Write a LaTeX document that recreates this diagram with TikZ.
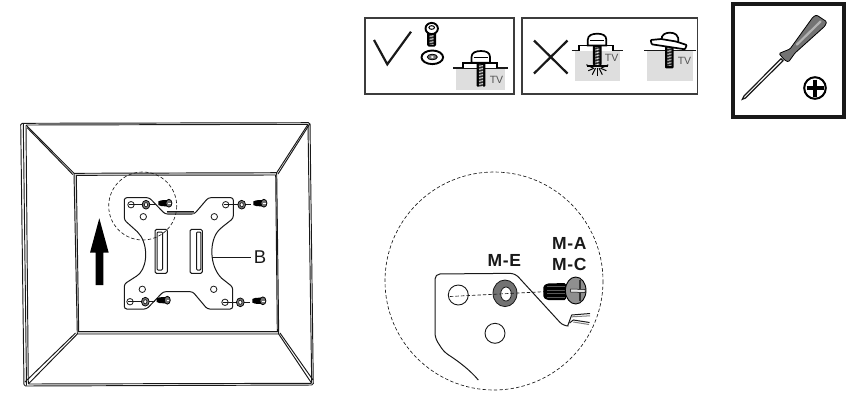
\documentclass[tikz,border=0pt]{standalone}
\usepackage{fontspec}
\setmainfont{Liberation Sans}
\definecolor{tvgray}{gray}{0.87}
\definecolor{midgray}{gray}{0.45}
\definecolor{darkline}{gray}{0.1}
\tikzset{
  framebox/.style={draw=darkline!85, line width=1.6pt},
  edgeline/.style={draw=darkline, line width=0.95pt},
  plateline/.style={draw=darkline, line width=1pt},
  dashcircle/.style={draw=darkline, line width=0.65pt, dashed, dash pattern=on 3.4pt off 2.2pt},
  tvlabel/.style={text=darkline!75, font=\fontsize{10.5}{10.5}\selectfont, inner sep=0pt},
  partlabel/.style={text=darkline, font=\fontsize{17.5}{21.5}\selectfont\bfseries\addfontfeature{LetterSpace=4}, inner sep=0pt, align=center},
  tvbolt/.pic={
    \draw[line width=1.7pt, fill=white] (-18,0) -- (-18,-5.3) -- (15.7,-5.3) -- (15.7,0);
    \draw[line width=1.7pt, fill=white] (-9.5,-5.3) -- (-9.5,-11) .. controls (-9.5,-15.5) and (-5,-17) .. (0,-17) .. controls (5,-17) and (9,-15.5) .. (9,-11) -- (9,-5.3) -- cycle;
    \draw[line width=1.1pt] (-7.5,-10.5) -- (7,-10.5);
    \fill[black, rounded corners=1pt] (-4.4,-5.3) rectangle (4.4,#1);
    \foreach \ty in {-3,-1.5,...,#1} { \draw[white, line width=0.55pt] (-2,\ty) -- (2,\ty+0.5); }
  },
  miniscrew/.pic={
    \fill[black] (-10,-1.8) -- (-7,-2.9) -- (-1,-3.2) -- (-1,3.2) -- (-7,2.9) -- (-10,1.8) -- cycle;
    \draw[black, fill=midgray, line width=0.8pt] (0.6,0) ellipse (3 and 3.9);
    \draw[white, line width=0.5pt] (0,0) -- (2.3,0);
  },
  miniwasher/.pic={
    \draw[black, fill=midgray, line width=0.7pt] (0,0) ellipse (3.9 and 4.4);
    \draw[black, fill=white, line width=0.5pt] (0,0) ellipse (1.6 and 2.1);
  },
  platehole/.style={draw=darkline, line width=0.8pt, fill=white, circle, inner sep=0pt, minimum size=6.4pt}
}
\begin{document}
\begin{tikzpicture}[x=1pt, y=-1pt]
\useasboundingbox (0,0) rectangle (852,392);
% instruction boxes
\draw[framebox] (365,18) rectangle (514,94);
\draw[framebox] (522,18) rectangle (697.5,94);
\draw[line width=2.2pt, draw=darkline] (374,40) -- (387.3,64.3) -- (411,31.7);
\draw[line width=2.2pt, draw=darkline] (534,40.5) -- (567.5,73.5);
\draw[line width=2.2pt, draw=darkline] (567.5,40.5) -- (534,73.5);
% loose bolt and washer
\fill[black, rounded corners=1.5pt] (427.2,29) rectangle (436.2,46.5);
\foreach \ty in {35,36.5,...,45} { \draw[white, line width=0.55pt] (429.7,\ty) -- (433.7,\ty+0.4); }
\draw[black, fill=white, line width=1.9pt] (431.7,28.5) ellipse (6.2 and 5.6);
\draw[black, line width=1pt] (431.7,27.5) ellipse (2.8 and 1.8);
\draw[black, fill=white, line width=1.9pt] (432.3,57.3) ellipse (10.8 and 6.8);
\draw[black, fill=midgray, line width=0.8pt] (432.3,57) ellipse (5 and 2.8);
\fill[white] (432.3,57) ellipse (1.8 and 1);
% bolt in tv, correct
\fill[tvgray] (456.3,68) rectangle (505,89.7);
\draw[line width=1.1pt, draw=darkline] (453,68) -- (508,68);
\pic at (481,68) {tvbolt=18.7};
\node[tvlabel] (tvA) at (496.5,80) {TV};
% bolt too long
\fill[tvgray] (575,50.7) rectangle (620,81);
\draw[line width=1.1pt, draw=darkline] (571.7,50.7) -- (623.3,50.7);
\pic at (597.3,50.7) {tvbolt=14.5};
\node[tvlabel] (tvB) at (611.7,58.3) {TV};
\foreach \ca/\cb in {-11/14,-9/20,-5/24,0/25,5/24,9/20,11/14} {
  \draw[black, line width=1pt] (597.3+0.35*\ca,50.7+17.5) -- (597.3+\ca,50.7+\cb);
}
\draw[black, line width=1.2pt] (587,66) -- (608,66);
% bolt tilted
\fill[tvgray] (646.7,50.7) rectangle (692.7,81);
\draw[line width=1.1pt, draw=darkline] (644,50.7) -- (695.7,50.7);
\fill[black, rounded corners=1pt] (665,40) rectangle (673.6,68.3);
\foreach \ty in {47,48.5,...,66} { \draw[white, line width=0.55pt] (667.3,\ty) -- (671.3,\ty+0.5); }
\draw[line width=1.7pt, fill=white] (661.5,40.5) .. controls (661,34) and (666,32.7) .. (670,32.7) .. controls (675,32.7) and (679,35) .. (678.3,42) -- cycle;
\draw[line width=1.7pt, fill=white, rounded corners=0.8pt] (650.7,40) -- (651.7,44.3) -- (685,49.3) -- (686.7,45) -- (676,41.5) -- (661,39) -- cycle;
\node[tvlabel] (tvC) at (684.5,60.7) {TV};
% screwdriver box
\draw[draw=darkline, line width=3.6pt] (733,4) rectangle (844,117);
\draw[line width=1.2pt, draw=darkline, fill=white] (742.3,99.3) -- (744,96) -- (781,58.7) -- (783,60.7) -- (745.5,98) -- cycle;
\draw[line width=0.8pt, draw=black, fill=midgray, rounded corners=1.2pt] (779,53.5) -- (790,49) -- (813,17) -- (816.5,15) -- (826.7,21.7) -- (825,26) -- (795,53) -- (788.5,62) -- (784.5,60) -- cycle;
\draw[line width=2.2pt, draw=gray!60!white, line cap=round] (820.5,21.5) -- (797,44.5);
\draw[black, line width=2pt] (815,88) circle (10.8);
\draw[black, line width=3.4pt] (806.5,88) -- (823.5,88);
\draw[black, line width=3.4pt] (815,79.5) -- (815,96.5);
% wall frame
\draw[edgeline, fill=white, rounded corners=1.5pt] (20.7,123.3) -- (310,122.7) -- (313.3,385) -- (24,386) -- cycle;
\draw[edgeline, rounded corners=1pt] (26,125) -- (308,124.3) -- (311.7,383.3) -- (28.3,384) -- cycle;
\draw[edgeline] (23.3,123.5) -- (26.5,385.5);
\draw[edgeline, fill=gray!25] (74,173.3) -- (276.7,172.7) -- (278.7,334) -- (77.3,334) -- cycle;
\draw[edgeline, fill=white] (76.3,175.3) -- (275.7,175) -- (277.3,331.7) -- (78.7,331.7) -- cycle;
\draw[edgeline] (26,125) -- (74,173.3);
\draw[edgeline] (27,127.5) -- (72.8,174.5);
\draw[edgeline] (308,124.3) -- (276.7,172.7);
\draw[edgeline] (310,123.5) -- (278,174);
\draw[edgeline] (311.7,383.3) -- (278.7,334);
\draw[edgeline] (313,380) -- (280,333);
\draw[edgeline] (28.3,384) -- (77.3,334);
\draw[edgeline] (25,382) -- (75.5,333);
% mount plate
\draw[plateline, fill=white, rounded corners=2.5pt] (124.3,201.7) -- (124.3,197.7) -- (149.3,197.7) -- (165,214) -- (194.3,214) -- (208.3,197.7) -- (233.3,197.7) -- (233.3,218.3) -- (221,228) [sharp corners] .. controls (209,240) and (209,266) .. (221.7,278.3) [rounded corners=2.5pt] -- (232.7,287) -- (232.7,309) -- (207.3,309) -- (192.7,291.7) -- (163.3,291.7) -- (146.7,309) -- (124.3,309) -- (124.3,284) -- (138.3,275) [sharp corners] .. controls (148,264) and (148,242) .. (137.3,231.7) [rounded corners=2.5pt] -- (124.3,220) -- cycle;
\fill[darkline!60] (166.7,211.5) rectangle (194.3,214);
\draw[plateline] (166.7,211.3) -- (194.3,211.3);
\draw[plateline, rounded corners=1.5pt] (155,229.3) rectangle (167.3,273.3);
\draw[plateline, rounded corners=1pt] (157,232) -- (162.5,232) -- (162.5,270) -- (157,270) -- cycle;
\draw[plateline, rounded corners=1.5pt] (190,229.3) rectangle (202.3,273.3);
\draw[plateline, rounded corners=1pt] (196.5,232) -- (200.8,232) -- (200.8,270) -- (196.5,270) -- cycle;
\node[platehole] (holeA) at (143.3,216.7) {};
\node[platehole] (holeB) at (214.3,216.7) {};
\node[platehole] (holeC) at (142.3,289.3) {};
\node[platehole] (holeD) at (213.7,289.3) {};
\foreach \hx/\hy/\wx/\sx/\nm in {131/204.7/146/168.3/P,225.7/204.7/241.7/263.3/Q,130/301.7/145.3/166.7/R,225/302.3/240.3/262.3/S} {
  \node[platehole] (mini\nm) at (\hx,\hy) {};
  \draw[darkline, line width=0.8pt] (\hx-2,\hy) -- (\wx,\hy);
  \draw[darkline, line width=0.8pt] (\wx,\hy) -- (\sx-12,\hy);
  \pic at (\wx,\hy) {miniwasher};
  \pic at (\sx,\hy-1.5) {miniscrew};
}
\draw[dashcircle] (142.7,206) circle (34);
% arrow up
\fill[black] (99.3,218.3) -- (108.7,252.7) -- (103.3,252.7) -- (103.3,285) -- (95.7,285) -- (95.7,252.7) -- (90,252.7) -- cycle;
\coordinate (plateB) at (212,257.7);
\node[inner sep=0pt, font=\fontsize{18.5}{18.5}\selectfont, text=darkline] (labelB) at (260,256.7) {B};
\draw[darkline, line width=0.8pt, shorten >=3pt] (plateB) -- (labelB.west |- plateB);
% detail circle
\draw[dashcircle] (494,281) circle (109);
\draw[plateline, rounded corners=5pt] (478.3,380) .. controls (470,370) and (458,361) .. (444,352) -- (435,338) -- (435,274) -- (515,273.3) -- (563.3,326) -- (568,326);
\draw[plateline] (567.6,326) -- (571.7,315) -- (590,313.5);
\draw[gray, line width=1pt] (571.7,316.8) -- (590,315.8);
\draw[plateline] (569.5,323) -- (573.3,320) -- (589.5,322.5);
\draw[gray, line width=1pt] (573.3,322) -- (589,324.5);
\node[circle, draw=darkline, fill=white, line width=0.9pt, minimum size=20pt, inner sep=0pt] (holeE) at (458.3,295) {};
\node[circle, draw=darkline, fill=white, line width=0.9pt, minimum size=20pt, inner sep=0pt] (holeF) at (495,333.3) {};
\draw[darkline, fill=midgray, line width=0.8pt] (505,293.3) ellipse (12 and 13.3);
\draw[darkline, fill=white, line width=0.8pt] (506,294) ellipse (5.3 and 7);
\draw[darkline, line width=0.65pt, dashed, dash pattern=on 3.5pt off 2pt] (holeE.west) ++(2,1.5) -- (544,291.7);
\fill[black, rounded corners=1.5pt] (543.3,286) -- (547,283.5) -- (566,283) -- (566,300) -- (547,300) -- (543.3,297.5) -- cycle;
\foreach \ty in {286.5,290,293.5,297} { \draw[gray!70!black, line width=0.4pt] (547,\ty) -- (565,\ty); }
\draw[black, fill=midgray!80, line width=0.9pt] (575.7,290.5) ellipse (10.3 and 13.5);
\draw[black, fill=gray!20, line width=0.5pt] (570.5,289) -- (585,289.5) -- (585,292.5) -- (570.5,292) -- cycle;
\draw[black!80, line width=1.4pt] (580,280) -- (580,289);
\draw[black!80, line width=1.4pt] (580,292.5) -- (580,301);
\node[partlabel] (labelE) at (504.3,260) {M-E};
\node[partlabel] (labelA) at (569.3,254) {M-A\\M-C};
\end{tikzpicture}
\end{document}
